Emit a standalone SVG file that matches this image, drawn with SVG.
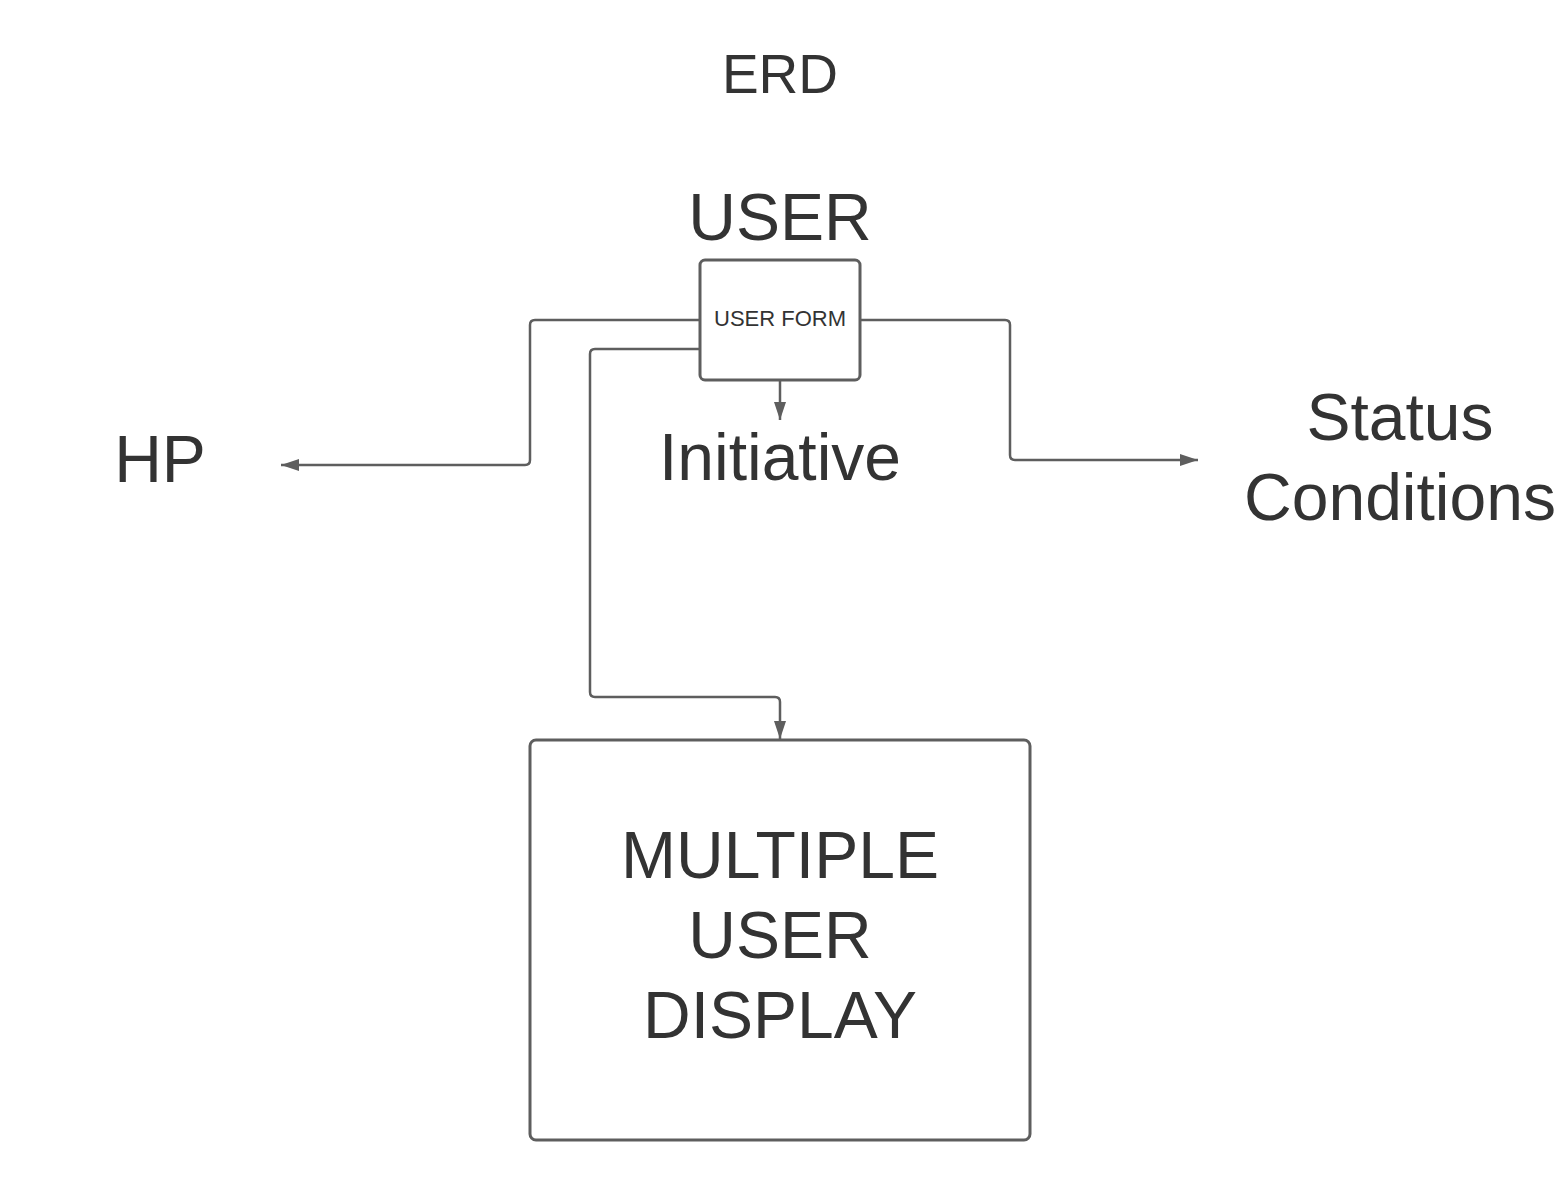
<svg xmlns="http://www.w3.org/2000/svg" width="1560" height="1180" viewBox="0 0 1560 1180">
<defs>
<style>
.t{font-family:"Liberation Sans",Arial,sans-serif;fill:#333333;text-anchor:middle}
.big{font-size:66px}
.box{fill:#ffffff;stroke:#5e5e5e;stroke-width:3}
.ln{fill:none;stroke:#5e5e5e;stroke-width:2.5;stroke-linejoin:round}
</style>
<marker id="ah" viewBox="0 0 10 10" refX="10" refY="5" markerWidth="6.5" markerHeight="6.5" markerUnits="userSpaceOnUse" orient="auto">
<path d="M0,0 L10,5 L0,10 Z" fill="#5e5e5e"/>
</marker>
<marker id="a" viewBox="0 0 18 12" refX="18" refY="6" markerWidth="18" markerHeight="12" markerUnits="userSpaceOnUse" orient="auto">
<path d="M0,0 L18,6 L0,12 Z" fill="#5e5e5e"/>
</marker>
</defs>
<rect width="1560" height="1180" fill="#ffffff"/>
<g id="title"><text class="t" x="780" y="93" font-size="55">ERD</text></g>
<g id="connectors">
<path class="ln" d="M700,320 H535 Q530,320 530,325 V460 Q530,465 525,465 H281" marker-end="url(#a)"/>
<path class="ln" d="M700,349 H595 Q590,349 590,354 V692 Q590,697 595,697 H775 Q780,697 780,702 V739" marker-end="url(#a)"/>
<path class="ln" d="M860,320 H1005 Q1010,320 1010,325 V455 Q1010,460 1015,460 H1198" marker-end="url(#a)"/>
<path class="ln" d="M780,380 V420" marker-end="url(#a)"/>
</g>
<g id="user-label"><text class="t big" x="780" y="240">USER</text></g>
<g id="user-form">
<rect class="box" x="700" y="260" width="160" height="120" rx="5"/>
<text class="t" x="780" y="326" font-size="22">USER FORM</text>
</g>
<g id="hp"><text class="t big" x="160" y="482">HP</text></g>
<g id="initiative"><text class="t big" x="780" y="480">Initiative</text></g>
<g id="status"><text class="t big" x="1400" y="440">Status</text><text class="t big" x="1400" y="520">Conditions</text></g>
<g id="multi">
<rect class="box" x="530" y="740" width="500" height="400" rx="6"/>
<text class="t big" x="780" y="878">MULTIPLE</text>
<text class="t big" x="780" y="958">USER</text>
<text class="t big" x="780" y="1038">DISPLAY</text>
</g>
</svg>
